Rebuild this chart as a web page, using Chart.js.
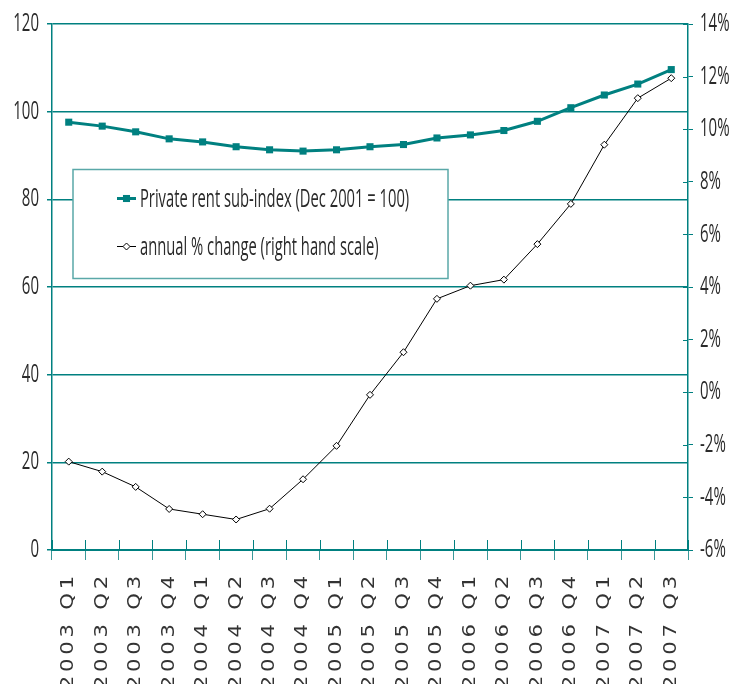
<!DOCTYPE html>
<html>
<head>
<meta charset="utf-8">
<title>Private rent sub-index</title>
<script src="https://cdn.jsdelivr.net/npm/chart.js@4/dist/chart.umd.min.js"></script>
<style>
  html, body { margin: 0; padding: 0; background: #ffffff; overflow: hidden; }
  #wrap { width: 734px; height: 684px; position: relative; overflow: hidden; }
</style>
</head>
<body>
<div id="wrap"><canvas id="chart" width="734" height="684"></canvas></div>
<script>
// Quarters shown along the bottom axis
const quarters = [
  '2003 Q1', '2003 Q2', '2003 Q3', '2003 Q4',
  '2004 Q1', '2004 Q2', '2004 Q3', '2004 Q4',
  '2005 Q1', '2005 Q2', '2005 Q3', '2005 Q4',
  '2006 Q1', '2006 Q2', '2006 Q3', '2006 Q4',
  '2007 Q1', '2007 Q2', '2007 Q3'
];

// Private rent sub-index (Dec 2001 = 100), left scale
const rentIndex = [
  97.6, 96.7, 95.4, 93.8,
  93.1, 92.0, 91.3, 91.0,
  91.3, 92.0, 92.5, 94.0,
  94.7, 95.7, 97.8, 100.9,
  103.8, 106.3, 109.6
];

// Annual % change, right scale
const annualChange = [
  -2.64, -3.02, -3.60, -4.44,
  -4.64, -4.84, -4.43, -3.31,
  -2.04, -0.10, 1.52, 3.55,
  4.05, 4.28, 5.63, 7.16,
  9.41, 11.18, 11.94
];

// Axis ranges and tick steps
const leftTicks = { min: 0, max: 120, step: 20 };
const rightTicks = { min: -6, max: 14, step: 2 };

const seriesNames = [
  'Private rent sub-index (Dec 2001 = 100)',
  'annual % change (right hand scale)'
];

const TEAL = '#008080';
const TEXT = '#2a2a2a';
const LABEL_FONT = "'Open Sans', 'Noto Sans', sans-serif";

// Draw text squeezed (k < 1) or stretched (k > 1) along its baseline,
// keeping the aligned edge in place.
function withTextScale(ctx, k, draw) {
  const proto = Object.getPrototypeOf(ctx);
  ctx.fillText = function (text, x, y) {
    this.save();
    this.translate(x, y);
    this.scale(k, 1);
    proto.fillText.call(this, text, 0, 0);
    this.restore();
  };
  try { draw(); } finally { delete ctx.fillText; }
}

// Category axis: wide, letter-spaced labels
class WideCategoryScale extends Chart.CategoryScale {
  drawLabels(chartArea) {
    const ctx = this.ctx;
    ctx.save();
    ctx.letterSpacing = '3px';
    withTextScale(ctx, 1.25, () => super.drawLabels(chartArea));
    ctx.restore();
  }
}
WideCategoryScale.id = 'wideCategory';
WideCategoryScale.defaults = Chart.CategoryScale.defaults;

// Value axis: narrow labels
class NarrowLinearScale extends Chart.LinearScale {
  drawLabels(chartArea) {
    withTextScale(this.ctx, 0.6, () => super.drawLabels(chartArea));
  }
}
NarrowLinearScale.id = 'narrowLinear';
NarrowLinearScale.defaults = Chart.LinearScale.defaults;

Chart.register(WideCategoryScale, NarrowLinearScale);

// Short tick marks that cross into the plot area (bottom and right axes)
const innerTicks = {
  id: 'innerTicks',
  afterDatasetsDraw(chart) {
    const ctx = chart.ctx;
    const x = chart.scales.x;
    const y1 = chart.scales.y1;
    ctx.save();
    ctx.strokeStyle = TEAL;
    ctx.lineWidth = 1;
    ctx.beginPath();
    for (let i = 0; i <= quarters.length; i++) {
      const px = Math.round(x.getPixelForValue(i - 0.5)) + 0.5;
      ctx.moveTo(px, x.top);
      ctx.lineTo(px, x.top - 10);
    }
    y1.ticks.forEach(t => {
      const py = Math.round(y1.getPixelForValue(t.value)) + 0.5;
      ctx.moveTo(y1.left, py);
      ctx.lineTo(y1.left - 5, py);
    });
    ctx.stroke();
    ctx.restore();
  }
};

// Boxed legend sitting inside the plot area
const boxLegend = {
  id: 'boxLegend',
  afterDatasetsDraw(chart) {
    const ctx = chart.ctx;
    const a = chart.chartArea;
    const bx = a.left + 21, by = a.top + 145.5, bw = 375, bh = 109;
    ctx.save();
    ctx.fillStyle = '#ffffff';
    ctx.fillRect(bx, by, bw, bh);
    ctx.strokeStyle = '#5aa8a8';
    ctx.lineWidth = 1.5;
    ctx.strokeRect(bx, by, bw, bh);

    const rows = [by + 29, by + 77];
    chart.data.datasets.forEach((ds, i) => {
      const cy = rows[i];
      const sx = bx + 44, ex = bx + 63, mx = (sx + ex) / 2;
      ctx.beginPath();
      ctx.strokeStyle = ds.borderColor;
      ctx.lineWidth = ds.borderWidth;
      ctx.moveTo(sx, cy);
      ctx.lineTo(ex, cy);
      ctx.stroke();
      ctx.fillStyle = ds.pointBackgroundColor;
      ctx.strokeStyle = ds.pointBorderColor;
      ctx.lineWidth = ds.pointBorderWidth;
      Chart.helpers.drawPoint(ctx, {
        pointStyle: ds.pointStyle,
        radius: ds.pointRadius,
        borderWidth: ds.pointBorderWidth
      }, mx, cy);
      ctx.fillStyle = TEXT;
      ctx.font = "25px " + LABEL_FONT;
      ctx.textBaseline = 'middle';
      ctx.textAlign = 'left';
      withTextScale(ctx, 0.59, () => ctx.fillText(ds.label, ex + 4, cy + 1));
    });
    ctx.restore();
  }
};

new Chart(document.getElementById('chart'), {
  type: 'line',
  data: {
    labels: quarters,
    datasets: [
      {
        label: seriesNames[0],
        data: rentIndex,
        yAxisID: 'y',
        order: 1,
        borderColor: TEAL,
        borderWidth: 3,
        pointStyle: 'rect',
        pointRadius: 5,
        pointBackgroundColor: TEAL,
        pointBorderColor: TEAL,
        pointBorderWidth: 0,
        tension: 0
      },
      {
        label: seriesNames[1],
        data: annualChange,
        yAxisID: 'y1',
        order: 0,
        borderColor: '#000000',
        borderWidth: 1,
        pointStyle: 'rectRot',
        pointRadius: 3.5,
        pointBackgroundColor: '#ffffff',
        pointBorderColor: '#000000',
        pointBorderWidth: 1,
        tension: 0
      }
    ]
  },
  options: {
    responsive: false,
    animation: false,
    devicePixelRatio: 1,
    layout: { padding: { top: 24, left: 0, right: 0, bottom: 0 } },
    plugins: {
      legend: { display: false },
      tooltip: { enabled: false }
    },
    scales: {
      x: {
        type: 'wideCategory',
        offset: true,
        afterFit: s => { s.height = 134; },
        grid: {
          offset: true,
          drawOnChartArea: false,
          drawTicks: true,
          tickLength: 10,
          color: '#3a9999',
          lineWidth: 1
        },
        border: { color: TEAL, width: 2 },
        ticks: {
          autoSkip: false,
          minRotation: 90,
          maxRotation: 90,
          padding: 12,
          color: '#333333',
          font: { family: "'DejaVu Sans', sans-serif", size: 17 }
        }
      },
      y: {
        type: 'narrowLinear',
        position: 'left',
        min: leftTicks.min,
        max: leftTicks.max,
        afterFit: s => { s.width = 52; },
        grid: { color: TEAL, lineWidth: 1.5, tickLength: 5 },
        border: { color: TEAL, width: 1.5 },
        ticks: {
          stepSize: leftTicks.step,
          padding: 8,
          color: TEXT,
          font: { family: LABEL_FONT, size: 25 }
        }
      },
      y1: {
        type: 'narrowLinear',
        position: 'right',
        min: rightTicks.min,
        max: rightTicks.max,
        afterFit: s => { s.width = 46; },
        grid: { drawOnChartArea: false, color: TEAL, lineWidth: 1, tickLength: 5 },
        border: { color: TEAL, width: 1.5 },
        ticks: {
          stepSize: rightTicks.step,
          padding: 7,
          color: TEXT,
          font: { family: LABEL_FONT, size: 25 },
          callback: v => v + '%'
        }
      }
    }
  },
  plugins: [innerTicks, boxLegend]
});
</script>
</body>
</html>
